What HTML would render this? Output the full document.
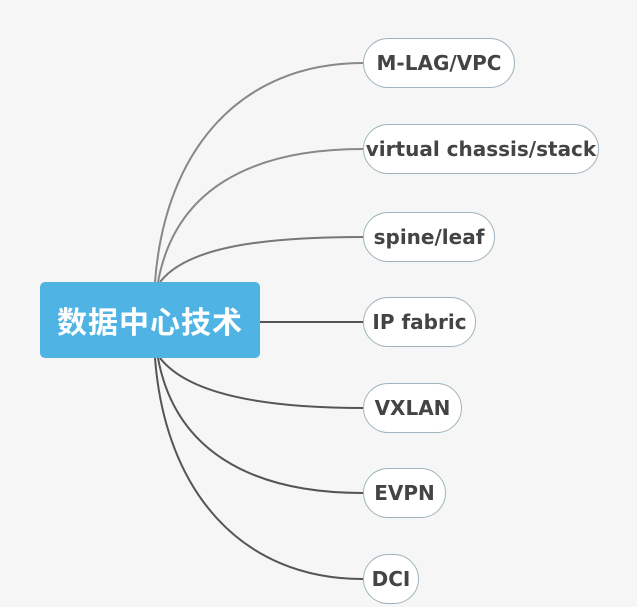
<!DOCTYPE html>
<html><head><meta charset="utf-8"><style>
body{margin:0;width:637px;height:607px;background:#f6f6f6;overflow:hidden;position:relative;font-family:"Liberation Sans","Noto Sans CJK SC",sans-serif}
.root{position:absolute;left:40px;top:282px;width:220px;height:76px;background:#4fb4e4;border-radius:5px;color:#fff;font-weight:bold;font-size:30px;line-height:76px;text-align:center;font-family:"Noto Sans CJK SC",sans-serif;letter-spacing:1px}
.n{position:absolute;left:363px;height:50px;border:1.3px solid #9fb4bc;border-radius:26px;background:#fff;color:#444;font-weight:bold;font-size:20px;line-height:48px;text-align:center;box-sizing:border-box;white-space:nowrap;font-family:"DejaVu Sans","Liberation Sans",sans-serif}
svg{position:absolute;left:0;top:0}
</style></head><body>
<svg width="637" height="607" fill="none" stroke-width="2">
<path d="M155 282 C165 150,240 63,363 63" stroke="#888"/>
<path d="M158 282 C175 190,250 149,363 149" stroke="#888"/>
<path d="M160 282 C185 250,250 237,363 237" stroke="#777"/>
<path d="M260 322 L363 322" stroke="#555"/>
<path d="M160 358 C185 390,250 408,363 408" stroke="#555"/>
<path d="M158 358 C175 450,250 493,363 493" stroke="#555"/>
<path d="M155 358 C165 490,240 579,363 579" stroke="#555"/>
</svg>
<div class="root">数据中心技术</div>
<div class="n" style="top:38px;width:152px">M-LAG/VPC</div>
<div class="n" style="top:124px;width:236px">virtual chassis/stack</div>
<div class="n" style="top:212px;width:132px">spine/leaf</div>
<div class="n" style="top:297px;width:113px">IP fabric</div>
<div class="n" style="top:383px;width:99px">VXLAN</div>
<div class="n" style="top:468px;width:83px">EVPN</div>
<div class="n" style="top:554px;width:56px">DCI</div>
</body></html>
